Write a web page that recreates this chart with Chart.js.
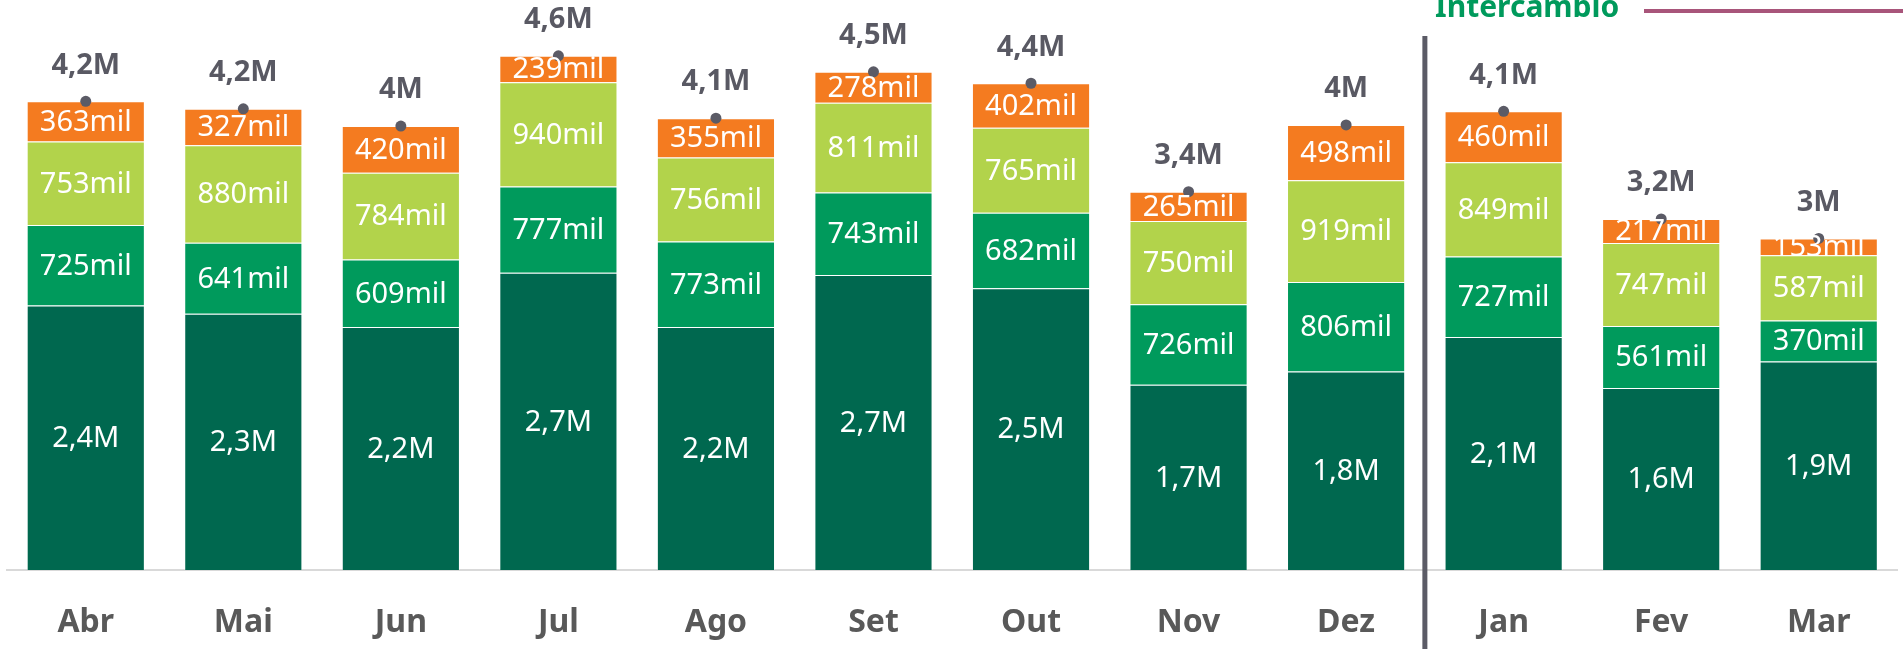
<!DOCTYPE html>
<html>
<head>
<meta charset="utf-8">
<script src="https://cdn.jsdelivr.net/npm/chart.js@4.4.1/dist/chart.umd.min.js"></script>
<style>
  html, body { margin: 0; padding: 0; background: #fff; overflow: hidden; }
</style>
</head>
<body>
<canvas id="chart" width="1903" height="649"></canvas>
<script>
// dados
const months = ['Abr', 'Mai', 'Jun', 'Jul', 'Ago', 'Set', 'Out', 'Nov', 'Dez', 'Jan', 'Fev', 'Mar'];
const serieBase = [2385000, 2310000, 2190000, 2680000, 2190000, 2660000, 2540000, 1670000, 1790000, 2100000, 1640000, 1880000];
const serieVerde = [725000, 641000, 609000, 777000, 773000, 743000, 682000, 726000, 806000, 727000, 561000, 370000];
const serieClara = [753000, 880000, 784000, 940000, 756000, 811000, 765000, 750000, 919000, 849000, 747000, 587000];
const serieLaranja = [363000, 327000, 420000, 239000, 355000, 278000, 402000, 265000, 498000, 460000, 217000, 153000];
const legendaTexto = 'Intercambio';

const totals = months.map((m, i) => serieBase[i] + serieVerde[i] + serieClara[i] + serieLaranja[i]);

const FONT = '"Noto Sans", "Open Sans", sans-serif';

function fmt(v) {
  if (v >= 1000000) {
    let s = (v / 1000000).toFixed(1);
    if (s.endsWith('.0')) s = s.slice(0, -2);
    return s.replace('.', ',') + 'M';
  }
  return Math.round(v / 1000) + 'mil';
}

const labelsPlugin = {
  id: 'labels',
  afterDatasetsDraw(chart) {
    const ctx = chart.ctx;
    ctx.save();
    ctx.textAlign = 'center';
    ctx.textBaseline = 'middle';
    for (let d = 0; d < 4; d++) {
      const meta = chart.getDatasetMeta(d);
      const data = chart.data.datasets[d].data;
      ctx.fillStyle = '#ffffff';
      ctx.font = '29px ' + FONT;
      meta.data.forEach((el, i) => {
        ctx.fillText(fmt(data[i]), el.x, (el.y + el.base) / 2 + 1);
      });
    }
    const tMeta = chart.getDatasetMeta(4);
    ctx.fillStyle = '#595963';
    ctx.font = 'bold 29px ' + FONT;
    tMeta.data.forEach((el, i) => {
      ctx.fillText(fmt(totals[i]), el.x, el.y - 36);
    });
    ctx.restore();
  },
  afterDraw(chart) {
    const ctx = chart.ctx;
    const x = chart.scales.x;
    const sep = (x.getPixelForValue(8) + x.getPixelForValue(9)) / 2;
    ctx.save();
    ctx.fillStyle = '#5B5B66';
    ctx.fillRect(sep - 2.5, 36, 5, chart.height - 36);
    // legenda
    ctx.fillStyle = '#009A5C';
    ctx.font = 'bold 30px ' + FONT;
    ctx.textAlign = 'left';
    ctx.textBaseline = 'alphabetic';
    ctx.fillText(legendaTexto, 1435, 17);
    ctx.fillStyle = '#A8557A';
    ctx.fillRect(1644, 9, chart.width - 1644, 4);
    ctx.restore();
  }
};

const barBorder = 'rgba(255,255,255,0.35)';

new Chart(document.getElementById('chart'), {
  data: {
    labels: months,
    datasets: [
      { type: 'bar', data: serieBase, backgroundColor: '#00684F', borderColor: barBorder, borderWidth: 1, order: 1 },
      { type: 'bar', data: serieVerde, backgroundColor: '#009A5C', borderColor: barBorder, borderWidth: 1, order: 1 },
      { type: 'bar', data: serieClara, backgroundColor: '#B2D34B', borderColor: barBorder, borderWidth: 1, order: 1 },
      { type: 'bar', data: serieLaranja, backgroundColor: '#F47B20', borderColor: barBorder, borderWidth: 1, order: 1 },
      {
        type: 'line', data: totals, stack: 'total', showLine: false, order: 0,
        pointRadius: 5.5, pointBackgroundColor: '#5B5B66', pointBorderWidth: 0
      }
    ]
  },
  options: {
    responsive: false,
    devicePixelRatio: 1,
    animation: false,
    layout: { padding: { left: 7, right: 0, top: 0, bottom: 0 } },
    plugins: { legend: { display: false }, tooltip: { enabled: false } },
    datasets: { bar: { categoryPercentage: 1, barPercentage: 0.75 } },
    scales: {
      x: {
        stacked: true,
        offset: true,
        grid: { display: false, drawTicks: false },
        border: { display: true, color: '#D9D9D9', width: 2 },
        ticks: { color: '#595959', font: { family: FONT, size: 32, weight: 'bold' }, padding: 34 },
        afterFit(s) { s.height = 79; }
      },
      y: {
        stacked: true,
        display: false,
        min: 0,
        max: 5090000
      }
    }
  },
  plugins: [labelsPlugin]
});
</script>
</body>
</html>
